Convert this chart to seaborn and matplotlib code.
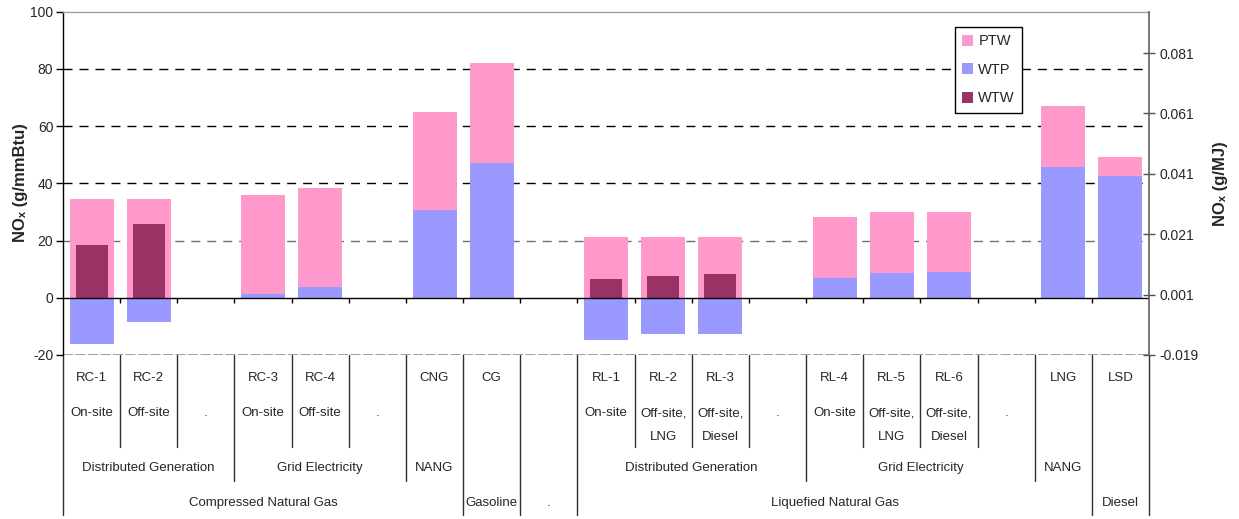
import numpy as np
import pandas as pd
import matplotlib
matplotlib.use("Agg")
import matplotlib.pyplot as plt
import seaborn as sns
from matplotlib.patches import Patch
from matplotlib.lines import Line2D

# ---------------- data ----------------
pathways = ["RC-1", "RC-2", "", "RC-3", "RC-4", "", "CNG", "CG", "",
            "RL-1", "RL-2", "RL-3", "", "RL-4", "RL-5", "RL-6", "", "LNG", "LSD"]
sub_line1 = ["On-site", "Off-site", ".", "On-site", "Off-site", ".", "", "", "",
             "On-site", "Off-site,", "Off-site,", ".", "On-site", "Off-site,", "Off-site,", ".", "", ""]
sub_line2 = ["", "", "", "", "", "", "", "", "",
             "", "LNG", "Diesel", "", "", "LNG", "Diesel", "", "", ""]
group3_labels = ["Distributed Generation", "Grid Electricity", "NANG",
                 "Distributed Generation", "Grid Electricity", "NANG"]
group3_spans = [(0, 2), (3, 5), (6, 6), (9, 12), (13, 16), (17, 17)]
group4_labels = ["Compressed Natural Gas", "Gasoline", ".", "Liquefied Natural Gas", "Diesel"]
group4_spans = [(0, 6), (7, 7), (8, 8), (9, 17), (18, 18)]

nan = np.nan
PTW = [34.6, 34.6, nan, 34.5, 34.8, nan, 34.1, 34.9, nan,
       21.3, 21.3, 21.3, nan, 21.3, 21.3, 20.9, nan, 21.3, 6.6]
WTP = [-16.3, -8.6, nan, 1.4, 3.6, nan, 30.8, 47.1, nan,
       -14.9, -12.8, -12.8, nan, 7.0, 8.7, 9.1, nan, 45.7, 42.6]
WTW = [18.4, 25.8, nan, nan, nan, nan, nan, nan, nan,
       6.6, 7.7, 8.4, nan, nan, nan, nan, nan, nan, nan]

series_names = ["PTW", "WTP", "WTW"]
colors = {"PTW": "#FF99CC", "WTP": "#9999FF", "WTW": "#993366"}

MJ_PER_MMBTU = 1055.0

# ---------------- style ----------------
sns.set_style("white")
plt.rcParams["font.family"] = ["Liberation Sans", "DejaVu Sans"]
plt.rcParams["axes.unicode_minus"] = False

n = len(pathways)
slots = list(range(n))
ptw = np.array(PTW)
wtp = np.array(WTP)
pink_top = ptw + np.where(np.isnan(wtp), 0, np.clip(wtp, 0, None))
df = pd.DataFrame({"slot": slots, "pink_top": pink_top, "WTP": wtp, "WTW": WTW})

W, H = 1239, 519
fig = plt.figure(figsize=(W / 100, H / 100), dpi=100)
ax_l, ax_r, ax_t, ax_b = 63, 1149, 11.5, 355
ax = fig.add_axes([ax_l / W, 1 - ax_b / H, (ax_r - ax_l) / W, (ax_b - ax_t) / H])

sns.barplot(data=df, x="slot", y="pink_top", order=slots, color=colors["PTW"],
            width=0.77, saturation=1, linewidth=0, errorbar=None, ax=ax, zorder=3)
sns.barplot(data=df, x="slot", y="WTP", order=slots, color=colors["WTP"],
            width=0.77, saturation=1, linewidth=0, errorbar=None, ax=ax, zorder=3)
sns.barplot(data=df, x="slot", y="WTW", order=slots, color=colors["WTW"],
            width=0.56, saturation=1, linewidth=0, errorbar=None, ax=ax, zorder=3)

ax.set_xlim(-0.5, n - 0.5)
ax.set_ylim(-20, 100)
ax.set_yticks([-20, 0, 20, 40, 60, 80, 100])
ax.set_xticks([])
ax.set_xlabel("")
ax.set_ylabel("")
ax.tick_params(axis="y", direction="out", length=5, width=1, color="black",
               labelsize=10, pad=2, left=True)

# grid lines
for yv in [20, 40, 60, 80]:
    ax.axhline(yv, color="black" if yv > 20 else "#707070", lw=1,
               linestyle=(0, (6.5, 5)), zorder=1)
ax.axhline(-20, color="#909090", lw=1.2, linestyle=(0, (6, 1.5)), zorder=1)
ax.axhline(0, color="black", lw=1, zorder=4)
ax.vlines(np.arange(0.5, n - 0.5), -1.75, 0, color="black", lw=1, zorder=4)

ax.spines["bottom"].set_visible(False)
ax.spines["left"].set_color("black")
ax.spines["left"].set_linewidth(1)
ax.spines["top"].set_color("#a0a0a0")
ax.spines["top"].set_linewidth(1)
ax.spines["right"].set_visible(False)

# secondary axis (g/MJ)
r0 = -20 / MJ_PER_MMBTU - 0.000043
ax2 = ax.twinx()
ax2.set_ylim(r0, r0 + 120 / MJ_PER_MMBTU)
rticks = [-0.019, 0.001, 0.021, 0.041, 0.061, 0.081]
ax2.set_yticks(rticks)
ax2.set_yticklabels([f"{t:.3f}" for t in rticks])
ax2.tick_params(axis="y", direction="inout", length=9, width=1, color="#505050",
                labelsize=10, pad=3, right=True)
for s in ["top", "bottom", "left"]:
    ax2.spines[s].set_visible(False)
ax2.spines["right"].set_color("#606060")
ax2.spines["right"].set_linewidth(1.2)
ax2.grid(False)

# axis titles
fig.text(21 / W, 1 - 183 / H, "NOₓ (g/mmBtu)", rotation=90, ha="center", va="center",
         fontsize=12, fontweight="bold")
fig.text(1220 / W, 1 - 184 / H, "NOₓ (g/MJ)", rotation=90, ha="center", va="center",
         fontsize=12, fontweight="bold")

# multi-level category axis
tr = ax.get_xaxis_transform()
AXH = ax_b - ax_t


def fy(p):
    return (ax_b - p) / AXH


for i in range(n):
    if pathways[i]:
        ax.text(i, fy(378), pathways[i], transform=tr, ha="center", va="center",
                fontsize=9.5, clip_on=False)
    if sub_line1[i]:
        ax.text(i, fy(413), sub_line1[i], transform=tr, ha="center", va="center",
                fontsize=9.5, clip_on=False)
    if sub_line2[i]:
        ax.text(i, fy(437), sub_line2[i], transform=tr, ha="center", va="center",
                fontsize=9.5, clip_on=False)
for lab, (a, b) in zip(group3_labels, group3_spans):
    ax.text((a + b) / 2, fy(468), lab, transform=tr, ha="center", va="center",
            fontsize=9.5, clip_on=False)
for lab, (a, b) in zip(group4_labels, group4_spans):
    ax.text((a + b) / 2, fy(503), lab, transform=tr, ha="center", va="center",
            fontsize=9.5, clip_on=False)

b4 = {0, n}
for a, b in group4_spans:
    b4.add(a)
    b4.add(b + 1)
b3 = set()
for a, b in group3_spans:
    b3.add(a)
    b3.add(b + 1)
for bnd in range(n + 1):
    if bnd in b4:
        depth = 515
    elif bnd in b3:
        depth = 481
    else:
        depth = 447
    ax.add_line(Line2D([bnd - 0.5, bnd - 0.5], [0, fy(depth)], transform=tr,
                       color="#303030", lw=1, clip_on=False))

# legend
handles = [Patch(facecolor=colors[s], edgecolor="none", label=s) for s in series_names]
leg = fig.legend(handles=handles, loc="upper left",
                 bbox_to_anchor=(955 / W, 1 - 27 / H), bbox_transform=fig.transFigure,
                 frameon=True, fancybox=False, framealpha=1, fontsize=10.5,
                 labelspacing=1.0, handlelength=0.75, handleheight=0.75,
                 handletextpad=0.35, borderpad=0.5, borderaxespad=0)
leg.get_frame().set_edgecolor("black")
leg.get_frame().set_linewidth(1)
leg.set_zorder(10)

fig.savefig("out.png", dpi=100)
